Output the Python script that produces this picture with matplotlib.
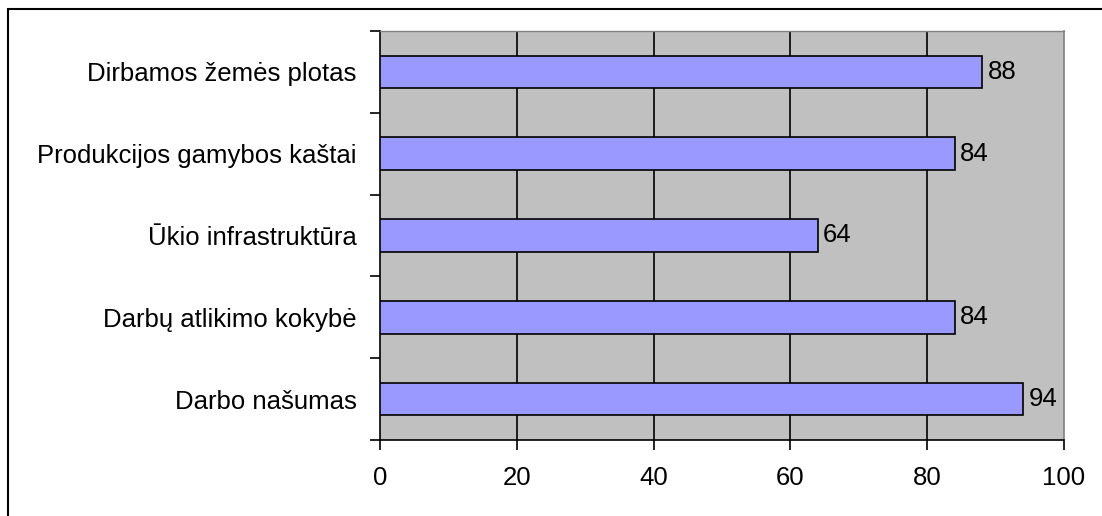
import matplotlib
matplotlib.use("Agg")
import matplotlib.pyplot as plt
from matplotlib.patches import Rectangle

categories = ["Darbo našumas", "Darbų atlikimo kokybė", "Ūkio infrastruktūra",
              "Produkcijos gamybos kaštai", "Dirbamos žemės plotas"]
values = [94, 84, 64, 84, 88]
xticks = [0, 20, 40, 60, 80, 100]

plt.rcParams['font.family'] = ['Liberation Sans', 'DejaVu Sans']
FS = 18.5

fig = plt.figure(figsize=(11.02, 5.16), dpi=100)
fig.patch.set_facecolor("white")
fig.patches.append(Rectangle((8/1102, -0.1), 1.2, (516-9)/516 + 0.1, transform=fig.transFigure,
                             fill=False, edgecolor="black", linewidth=1.5))

ax = fig.add_axes([380/1102, (516-440)/516, (1064-380)/1102, (440-31)/516])
ax.set_facecolor("#C0C0C0")
ypos = list(range(len(categories)))
ax.barh(ypos, values, height=0.4, color="#9999FF", edgecolor="black", linewidth=1.2, zorder=3)
for y, v in zip(ypos, values):
    ax.text(v + 0.8, y, str(v), va="center", ha="left", fontsize=FS, zorder=4)

ax.set_xlim(0, 100)
ax.set_ylim(-0.5, len(categories) - 0.5)
ax.set_xticks(xticks)
ax.set_xticklabels([str(t) for t in xticks])
ax.set_yticks(ypos)
ax.set_yticklabels(categories)
ax.set_yticks([i - 0.5 for i in range(len(categories) + 1)], minor=True)
ax.tick_params(axis="y", which="major", length=0, pad=17, labelsize=FS)
ax.tick_params(axis="y", which="minor", length=7, width=1.2, direction="out")
ax.tick_params(axis="x", which="major", length=7, width=1.2, direction="out", pad=12, labelsize=FS)
for x in xticks[1:-1]:
    ax.axvline(x, color="black", linewidth=1.2, zorder=2)

ax.spines["left"].set_color("black")
ax.spines["bottom"].set_color("black")
ax.spines["left"].set_linewidth(1.2)
ax.spines["bottom"].set_linewidth(1.2)
ax.spines["right"].set_color("#808080")
ax.spines["top"].set_color("#808080")
ax.spines["right"].set_linewidth(1.2)
ax.spines["top"].set_linewidth(1.0)

fig.savefig("out.png", dpi=100)
